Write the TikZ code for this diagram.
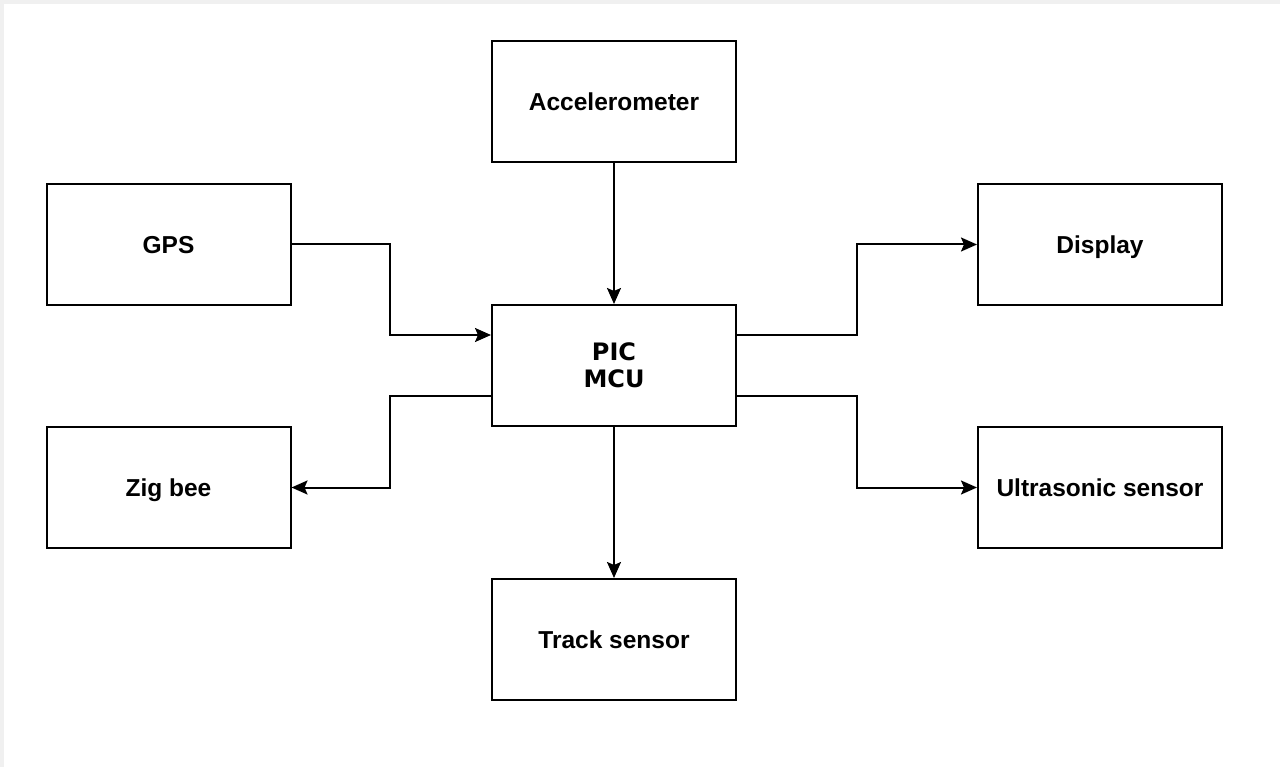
\documentclass[tikz,border=0pt]{standalone}
\usepackage{fontspec}
\setmainfont{Liberation Sans}
\newfontfamily\picfont{DejaVu Sans}
\usetikzlibrary{arrows.meta}
\begin{document}
\begin{tikzpicture}[x=1pt,y=-1pt,
  blk/.style={draw=black,line width=2pt,minimum width=244pt,minimum height=121pt,inner sep=0pt,font=\fontsize{24.5}{30}\selectfont\bfseries,align=center,text height=17.5pt,text depth=0pt},
  conn/.style={draw=black,line width=2pt,-{Stealth[length=16pt,width=14pt,inset=3pt]}}]
\useasboundingbox (0,0) rectangle (1280,767);
\fill[white] (0,0) rectangle (1280,767);
\fill[gray!12] (0,0) rectangle (1280,4);
\fill[gray!12] (0,0) rectangle (4,767);
\node[blk] (acc) at (614,102) {Accelerometer};
\node[blk] (gps) at (168.5,244.5) {GPS};
\node[blk] (disp) at (1100,244.5) {Display};
\node[blk,font=\fontsize{24}{27}\selectfont\picfont\bfseries,text height=,text depth=] (pic) at (614,365.5) {PIC\\MCU};
\node[blk] (zig) at (168.5,487.5) {Zig bee};
\node[blk] (ultra) at (1100,487.5) {Ultrasonic sensor};
\node[blk] (track) at (614,639.5) {Track sensor};
\coordinate (g1) at (390,244.5);
\coordinate (g2) at (390,335);
\coordinate (z1) at (390,396);
\coordinate (z2) at (390,487.5);
\coordinate (d1) at (857,335);
\coordinate (d2) at (857,244.5);
\coordinate (u1) at (857,396);
\coordinate (u2) at (857,487.5);
\draw[conn] (acc.south) -- (pic.north);
\draw[conn] (pic.south) -- (track.north);
\draw[conn] (gps.east) -- (g1) -- (g2) -- (g2 -| pic.west);
\draw[conn] (z1 -| pic.west) -- (z1) -- (z2) -- (zig.east);
\draw[conn] (d1 -| pic.east) -- (d1) -- (d2) -- (disp.west);
\draw[conn] (u1 -| pic.east) -- (u1) -- (u2) -- (ultra.west);
\end{tikzpicture}
\end{document}
